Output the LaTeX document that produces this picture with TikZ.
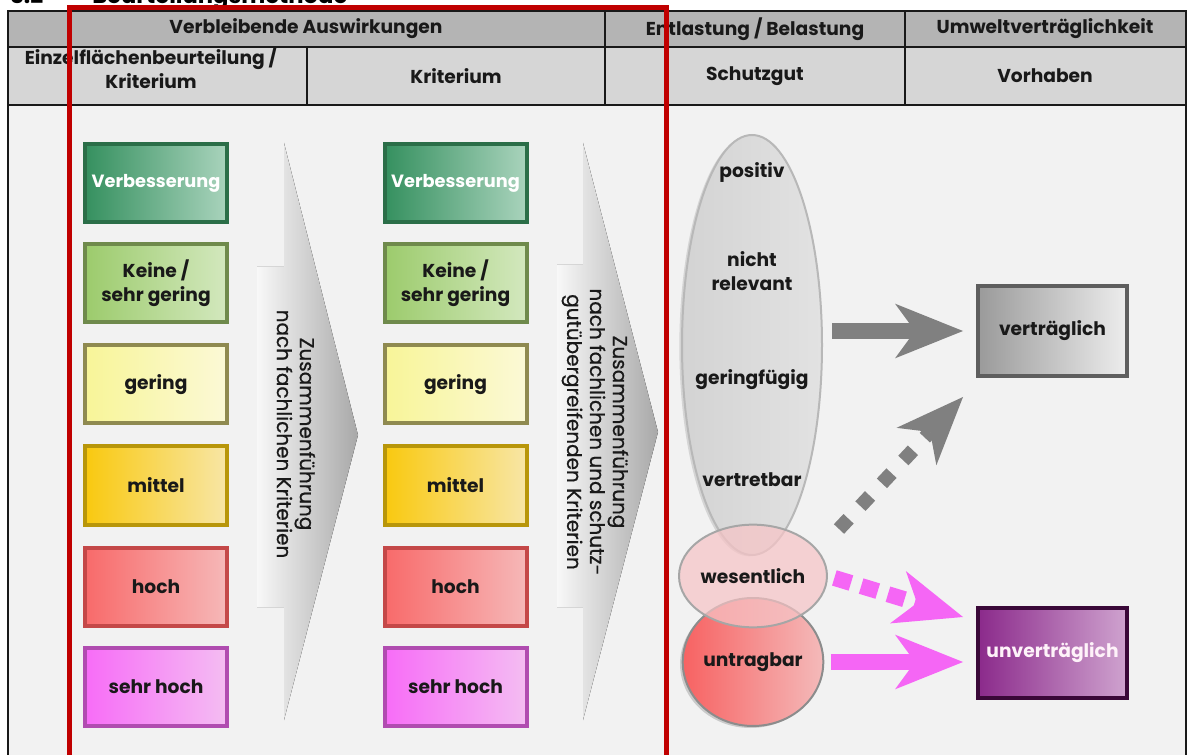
\documentclass[tikz,border=0pt]{standalone}
\usepackage{fontspec}
\setmainfont{Poppins}
\usetikzlibrary{arrows.meta,shapes.geometric,calc,shadows}

\definecolor{bodybg}{HTML}{F2F2F2}
\definecolor{hdrA}{HTML}{B4B4B4}
\definecolor{hdrB}{HTML}{D6D6D6}
\definecolor{frameRed}{HTML}{C00000}
\definecolor{vbB}{HTML}{2B6E48}\definecolor{vbL}{HTML}{35905F}\definecolor{vbR}{HTML}{A9D3BC}
\definecolor{kgB}{HTML}{6F8A4C}\definecolor{kgL}{HTML}{9CCB6C}\definecolor{kgR}{HTML}{D3E8BE}
\definecolor{geB}{HTML}{8F8A50}\definecolor{geL}{HTML}{F8F598}\definecolor{geR}{HTML}{FBF9D6}
\definecolor{miB}{HTML}{B8960A}\definecolor{miL}{HTML}{F9C90F}\definecolor{miR}{HTML}{F8E6A6}
\definecolor{hoB}{HTML}{C44848}\definecolor{hoL}{HTML}{F86A6A}\definecolor{hoR}{HTML}{F6B8B8}
\definecolor{shB}{HTML}{B04CB0}\definecolor{shL}{HTML}{F76CF7}\definecolor{shR}{HTML}{F4BDF2}
\definecolor{chevL}{HTML}{F8F8F8}\definecolor{chevR}{HTML}{A8A8A8}
\definecolor{ellFill}{HTML}{E2E2E2}\definecolor{ellLine}{HTML}{B8B8B8}
\definecolor{wesFill}{HTML}{F6C4C6}
\definecolor{untL}{HTML}{F76262}\definecolor{untR}{HTML}{F4BABA}
\definecolor{arrGray}{HTML}{808080}\definecolor{arrPink}{HTML}{F566F5}
\definecolor{vtB}{HTML}{5E5E5E}\definecolor{vtL}{HTML}{9A9A9A}\definecolor{vtR}{HTML}{EDEDED}
\definecolor{uvB}{HTML}{3A0838}\definecolor{uvL}{HTML}{8B2A8B}\definecolor{uvR}{HTML}{CFA3CF}

\begin{document}
\begin{tikzpicture}[x=0.75pt,y=-0.75pt,
  lbl/.style={font=\bfseries\fontsize{14}{18}\selectfont, align=center, inner sep=0pt, text=black!90},
  rot/.style={font=\fontsize{15}{17.2}\selectfont\addfontfeature{FakeBold=0.7}, align=center, inner sep=0pt, rotate=-90, text=black!90},
  cell/.style={draw=black!90, line width=1.5pt},
  lvl/.style={lbl, draw, line width=3pt, minimum width=106.5pt, minimum height=58.5pt},
  cVb/.style={draw=vbB, left color=vbL, right color=vbR, text=white, font=\bfseries\fontsize{13.3}{16}\selectfont},
  cKg/.style={draw=kgB, left color=kgL, right color=kgR},
  cGe/.style={draw=geB, left color=geL, right color=geR},
  cMi/.style={draw=miB, left color=miL, right color=miR},
  cHo/.style={draw=hoB, left color=hoL, right color=hoR},
  cSh/.style={draw=shB, left color=shL, right color=shR},
  chev/.style={left color=chevL, right color=chevR},
  result/.style={lbl, draw, line width=3pt, minimum width=111.75pt, minimum height=67.5pt},
  tipbig/.style={-{Stealth[length=51pt, width=41pt, inset=15pt, line width=0pt]}},
  solidArr/.style={tipbig, line width=12pt},
]
\useasboundingbox (0,0) rectangle (1189,755);
\clip (0,0) rectangle (1189,755);

% clipped title
\node[anchor=base west, font=\bfseries\fontsize{17}{19}\selectfont, inner sep=0pt] (tnum) at (10,4) {3.2};
\node[anchor=base west, font=\bfseries\fontsize{17}{19}\selectfont, inner sep=0pt] (ttext) at (92,4) {Beurteilungsmethode};

% table
\fill[bodybg] (8,105) rectangle (1186,760);
\draw[cell] (8,105) -- (8,760) (1186,105) -- (1186,760);
\filldraw[cell, fill=hdrA] (8,11) rectangle (605,47);
\filldraw[cell, fill=hdrA] (605,11) rectangle (905,47);
\filldraw[cell, fill=hdrA] (905,11) rectangle (1186,47);
\filldraw[cell, fill=hdrB] (8,47) rectangle (307,105);
\filldraw[cell, fill=hdrB] (307,47) rectangle (605,105);
\filldraw[cell, fill=hdrB] (605,47) rectangle (905,105);
\filldraw[cell, fill=hdrB] (905,47) rectangle (1186,105);

\node[lbl] (h1) at (306,29) {Verbleibende Auswirkungen};
\node[lbl] (h2) at (755,29) {Entlastung / Belastung};
\node[lbl] (h3) at (1045,29) {Umweltverträglichkeit};
\node[lbl] (h4) at (151,68) {Einzelflächenbeurteilung /\\Kriterium};
\node[lbl] (h5) at (456,76) {Kriterium};
\node[lbl] (h6) at (755,76) {Schutzgut};
\node[lbl] (h7) at (1045,76) {Vorhaben};

% chevrons
\fill[chev] (257,267) -- (284,267) -- (284,143) -- (358,435) -- (284,720) -- (284,607) -- (257,607) -- cycle;
\fill[chev] (557,265) -- (583,265) -- (583,143) -- (658,432) -- (583,720) -- (583,607) -- (557,607) -- cycle;
\node[rot] (c1) at (296,434) {Zusammenführung\\nach fachlichen Kriterien};
\node[rot] (c2) at (595,432) {Zusammenführung\\nach fachlichen und schutz-\\gutübergreifenden Kriterien};

% level boxes, column 1
\node[lvl, cVb] (a1) at (156,183) {Verbesserung};
\node[lvl, cKg] (a2) at (156,283.5) {Keine /\\sehr gering};
\node[lvl, cGe] (a3) at (156,384.5) {gering};
\node[lvl, cMi] (a4) at (156,485.5) {mittel};
\node[lvl, cHo] (a5) at (156,586.5) {hoch};
\node[lvl, cSh] (a6) at (156,686.5) {sehr hoch};
% column 2
\node[lvl, cVb] (b1) at (455.5,183) {Verbesserung};
\node[lvl, cKg] (b2) at (455.5,283.5) {Keine /\\sehr gering};
\node[lvl, cGe] (b3) at (455.5,384.5) {gering};
\node[lvl, cMi] (b4) at (455.5,485.5) {mittel};
\node[lvl, cHo] (b5) at (455.5,586.5) {hoch};
\node[lvl, cSh] (b6) at (455.5,686.5) {sehr hoch};

% Schutzgut ellipses
\node[ellipse, draw=ellLine, line width=1.5pt, left color=ellFill!85!gray, right color=ellFill,
      minimum width=105pt, minimum height=315pt,
      drop shadow={shadow xshift=-2pt, shadow yshift=-1pt, opacity=0.25}] (schutz) at (752,345) {};
\node[lbl] (e1) at (752,173) {positiv};
\node[lbl] (e2) at (752,271) {nicht\\relevant};
\node[lbl] (e3) at (752,380) {geringfügig};
\node[lbl] (e4) at (752,480) {vertretbar};
\node[ellipse, lbl, draw=black!45, line width=1.5pt, left color=untL, right color=untR,
      minimum width=105pt, minimum height=96pt,
      drop shadow={shadow xshift=-2pt, shadow yshift=-1.5pt, opacity=0.35}] (untr) at (753,662) {untragbar};
\node[ellipse, lbl, draw=black!35, line width=1.5pt, fill=wesFill, fill opacity=0.72, text opacity=1,
      minimum width=105pt, minimum height=77pt] (wes) at (753,576) {wesentlich};

% result boxes
\node[result, draw=vtB, left color=vtL, right color=vtR] (vert) at (1052.5,331) {verträglich};
\node[result, draw=uvB, left color=uvL, right color=uvR, text=white!95!magenta] (unv) at (1052.5,653) {unverträglich};

% connectors
\coordinate (gdStart) at ($(wes.east)+(11,-47)$);
\coordinate (gdEnd) at ($(vert.south west)+(-13,19)$);
\coordinate (pdEnd) at ($(unv.north west)+(-13,11)$);

\draw[solidArr, arrGray, shorten <=6.75pt, shorten >=9.75pt] (schutz.east |- vert.west) -- (vert.west);
\draw[tipbig, arrGray, line width=10.5pt, dash pattern=on 10.5pt off 13pt] (gdStart) -- (gdEnd);
\draw[tipbig, arrPink, line width=12pt, dash pattern=on 13pt off 8pt, shorten <=5pt] (wes.east) -- (pdEnd);
\draw[solidArr, arrPink, shorten <=5pt, shorten >=9.75pt] (untr.east) -- (unv.west |- untr.east);

% red frame
\draw[frameRed, line width=3.75pt] (69,8) rectangle (666,770);
\end{tikzpicture}
\end{document}
